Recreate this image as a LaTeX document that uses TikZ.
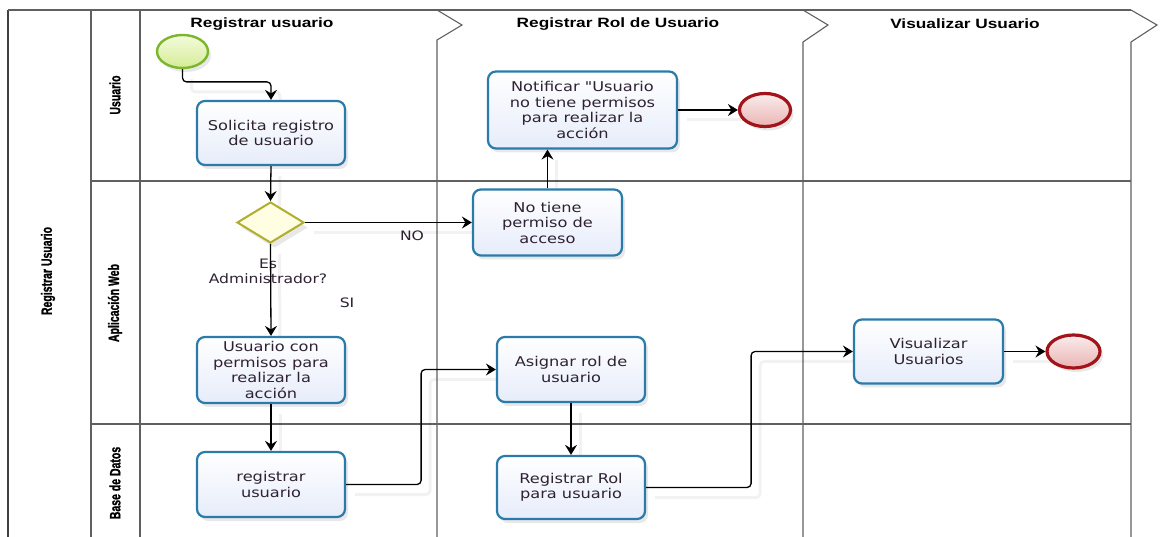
\documentclass[tikz,border=0pt]{standalone}
\usepackage{fontspec}
\setmainfont{DejaVu Sans}[Ligatures=TeXOff,FakeStretch=1.2]
\newfontfamily\headfont{Liberation Sans}[FakeStretch=1.28]
\newfontfamily\lanefont{Liberation Sans}[FakeStretch=0.7,FakeBold=1.2]
\usetikzlibrary{arrows.meta,shapes.geometric,shadows,calc}
\pgfdeclarelayer{lanes}
\pgfdeclarelayer{flowshade}
\pgfsetlayers{lanes,flowshade,main}
\definecolor{taskborder}{HTML}{2A7BA9}
\definecolor{taskfill}{HTML}{E6ECFA}
\definecolor{txt}{HTML}{2E2233}
\definecolor{poolline}{HTML}{606060}
\definecolor{startborder}{HTML}{7DB52E}
\definecolor{startfillA}{HTML}{F4FBDC}
\definecolor{startfillB}{HTML}{D4EC96}
\definecolor{endborder}{HTML}{A3141A}
\definecolor{endfillA}{HTML}{FBECEC}
\definecolor{endfillB}{HTML}{E9B4B4}
\definecolor{gwborder}{HTML}{B0AE2C}
\definecolor{gwfill}{HTML}{FFFDE2}
% a sequence flow together with its soft shadow, drawn behind the shapes
\newcommand\seqflow[1]{%
  \begin{pgfonlayer}{flowshade}\draw[flowshadow] #1;\end{pgfonlayer}%
  \draw[flow] #1;}
\begin{document}
\begin{tikzpicture}[x=1pt,y=-1pt,
  poolrule/.style={draw=poolline,line width=1.1pt},
  task/.style={rectangle,rounded corners=8pt,draw=taskborder,line width=2.2pt,
    top color=white,bottom color=taskfill,align=center,inner sep=2pt,
    text=txt,font=\fontsize{13.5}{15.5}\selectfont,
    drop shadow={shadow xshift=3pt,shadow yshift=-4pt,opacity=0.18,fill=gray}},
  startev/.style={ellipse,draw=startborder,line width=2.4pt,
    top color=startfillA,bottom color=startfillB,
    minimum width=51pt,minimum height=33pt,inner sep=0pt,
    drop shadow={shadow xshift=3pt,shadow yshift=-4pt,opacity=0.18,fill=gray}},
  endev/.style={ellipse,draw=endborder,line width=3.2pt,
    top color=endfillA,bottom color=endfillB,
    minimum width=51pt,minimum height=33pt,inner sep=0pt,
    drop shadow={shadow xshift=3pt,shadow yshift=-4pt,opacity=0.18,fill=gray}},
  gateway/.style={diamond,draw=gwborder,line width=2pt,fill=gwfill,
    minimum width=67pt,minimum height=41pt,inner sep=0pt,
    drop shadow={shadow xshift=4pt,shadow yshift=-5pt,opacity=0.18,fill=gray}},
  flow/.style={draw=black,line width=1.3pt,rounded corners=4pt,
    -{Stealth[length=10pt,width=12pt,inset=3.5pt]}},
  flowshadow/.style={draw=black,draw opacity=0.05,line width=3pt,rounded corners=4pt,
    transform canvas={xshift=9pt,yshift=-10pt}},
  flowlabel/.style={text=txt,font=\fontsize{13}{15}\selectfont,align=center},
  phasehead/.style={text=black,font=\headfont\bfseries\fontsize{13.5}{16}\selectfont},
  lanehead/.style={text=black,rotate=90,font=\lanefont\bfseries\fontsize{15}{17}\selectfont}
]
\useasboundingbox (0,0) rectangle (1160,537);

\begin{pgfonlayer}{lanes}
\fill[white] (0,0) rectangle (1160,537);
% pool frame and lanes
\draw[draw=black!75,line width=1.5pt] (8,10) -- (8,537);
\draw[poolrule] (8,10) -- (1131,10);
\draw[poolrule] (91,10) -- (91,537);
\draw[poolrule] (140,10) -- (140,537);
\draw[poolrule] (91,181) -- (1131,181);
\draw[poolrule] (91,424) -- (1131,424);
% phase separators with chevrons
\draw[poolrule,line join=miter] (437,10) -- (462,25) -- (437,40) -- (437,537);
\draw[poolrule,line join=miter] (803,10) -- (828,25) -- (803,42) -- (803,537);
\draw[poolrule,line join=miter] (1131,10) -- (1157,25) -- (1131,42) -- (1131,537);
\end{pgfonlayer}

% headers
\node[lanehead] (poolname) at (48,271) {Registrar Usuario};
\node[lanehead] (laneuser) at (115,95) {Usuario};
\node[lanehead] (laneweb) at (115,303) {Aplicación Web};
\node[lanehead] (lanedb) at (115,483) {Base de Datos};
\node[phasehead] (ph1) at (262,24) {Registrar usuario};
\node[phasehead] (ph2) at (618,24) {Registrar Rol de Usuario};
\node[phasehead] (ph3) at (965,24) {Visualizar Usuario};

% flow elements
\node[startev] (start) at (182.5,51.5) {};
\node[task,minimum width=148pt,minimum height=64pt] (solicita) at (271,133) {Solicita registro\\de usuario};
\node[task,minimum width=189pt,minimum height=77pt] (notif) at (582.5,110) {Notificar "Usuario\\no tiene permisos\\para realizar la\\acción};
\node[endev] (end1) at (765,110) {};
\node[gateway] (gw) at (270.5,222.5) {};
\node[task,minimum width=149pt,minimum height=66pt] (nope) at (547.5,222.5) {No tiene\\permiso de\\acceso};
\node[task,minimum width=148pt,minimum height=66pt] (perm) at (271,370) {Usuario con\\permisos para\\realizar la\\acción};
\node[task,minimum width=148pt,minimum height=65pt] (asig) at (571,369.5) {Asignar rol de\\usuario};
\node[task,minimum width=148pt,minimum height=65pt] (regu) at (271,484.5) {registrar\\usuario};
\node[task,minimum width=148pt,minimum height=63pt] (regrol) at (571,487.5) {Registrar Rol\\para usuario};
\node[task,minimum width=149pt,minimum height=64pt] (vis) at (928.5,351.5) {Visualizar\\Usuarios};
\node[endev,minimum width=53pt] (end2) at (1073.5,351.5) {};

% labels on the gateway branches
\node[flowlabel] (gwname) at (268,271) {Es\\Administrador?};
\node[flowlabel] (lblno) at (412,236) {NO};
\node[flowlabel] (lblsi) at (347,303) {SI};

% sequence flows
\seqflow{(start.south) |- ($(solicita.north)+(0,-18)$) -- (solicita.north)}
\seqflow{(solicita.south) -- (gw.north)}
\seqflow{(gw.east) -- (nope.west)}
\seqflow{(gw.south) -- (perm.north)}
\seqflow{(nope.north) -- (nope.north |- notif.south)}
\seqflow{(notif.east) -- (end1.west)}
\seqflow{(perm.south) -- (regu.north)}
\seqflow{(regu.east) -- ++(75,0) |- (asig.west)}
\seqflow{(asig.south) -- (regrol.north)}
\seqflow{(regrol.east) -- ++(105,0) |- (vis.west)}
\seqflow{(vis.east) -- (end2.west)}
\end{tikzpicture}
\end{document}
